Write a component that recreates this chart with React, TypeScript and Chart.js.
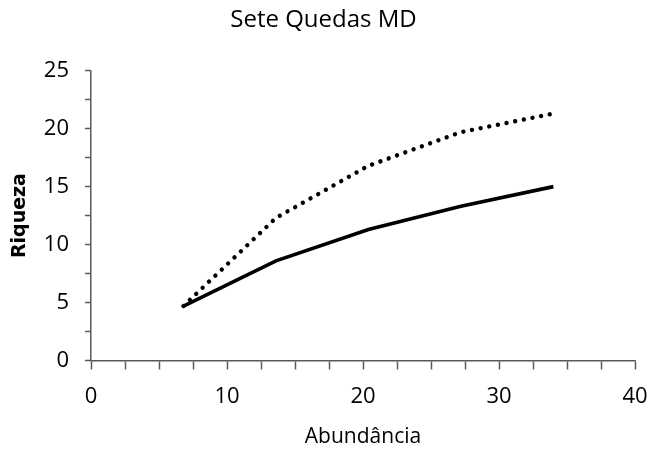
import React, { useEffect, useRef } from "react";
import { Chart, registerables } from "chart.js";

Chart.register(...registerables);

const abundance = [6.8, 13.6, 20.4, 27.2, 34.0];
const observedRichness = [4.7, 8.6, 11.3, 13.3, 15.0];
const estimatedRichness = [4.7, 12.3, 16.8, 19.7, 21.3];
const xTickLabels = [0, 10, 20, 30, 40];
const yTickLabels = [0, 5, 10, 15, 20, 25];

const AXIS_COLOR = "#595959";
const FONT = "'Open Sans', sans-serif";

export default function App() {
  const canvasRef = useRef<HTMLCanvasElement | null>(null);

  useEffect(() => {
    document.body.style.margin = "0";
    const canvas = canvasRef.current;
    if (!canvas) return;
    const chart = new Chart(canvas, {
      type: "line",
      data: {
        datasets: [
          {
            label: "Estimada",
            data: abundance.map((x, i) => ({ x, y: estimatedRichness[i] })),
            borderColor: "#000000",
            borderWidth: 4.4,
            borderDash: [0.01, 8.8],
            borderCapStyle: "round",
            pointRadius: 0,
            fill: false,
            tension: 0,
          },
          {
            label: "Observada",
            data: abundance.map((x, i) => ({ x, y: observedRichness[i] })),
            borderColor: "#000000",
            borderWidth: 3.6,
            pointRadius: 0,
            fill: false,
            tension: 0,
          },
        ],
      },
      options: {
        animation: false,
        responsive: true,
        maintainAspectRatio: false,
        layout: { padding: { left: 12, right: 12, top: 0, bottom: 0 } },
        plugins: {
          legend: { display: false },
          tooltip: { enabled: false },
          title: {
            display: true,
            text: "Sete Quedas MD",
            color: "#000000",
            font: { family: FONT, size: 24, weight: "normal", lineHeight: 1.2 },
            padding: { top: 5.3, bottom: 36.6 },
          },
        },
        scales: {
          x: {
            type: "linear",
            min: xTickLabels[0],
            max: xTickLabels[xTickLabels.length - 1],
            afterFit: (scale: any) => {
              scale.height = 90.5;
              scale.paddingRight = 0;
              scale.paddingLeft = 0;
            },
            border: { display: true, color: AXIS_COLOR, width: 1.5 },
            grid: {
              display: true,
              drawOnChartArea: false,
              drawTicks: true,
              tickLength: 9,
              color: AXIS_COLOR,
              tickWidth: 1.5,
            },
            ticks: {
              stepSize: 2.5,
              autoSkip: false,
              maxRotation: 0,
              padding: 13.8,
              color: "#000000",
              font: { family: FONT, size: 22, lineHeight: 1.2 },
              callback: (v: any) => (xTickLabels.includes(Number(v)) ? String(v) : ""),
            },
            title: {
              display: true,
              text: "Abundância",
              color: "#000000",
              font: { family: FONT, size: 21, lineHeight: 1.2 },
              padding: { top: 0, bottom: 1.4 },
            },
          },
          y: {
            type: "linear",
            min: yTickLabels[0],
            max: yTickLabels[yTickLabels.length - 1],
            afterFit: (scale: any) => {
              scale.width = 79;
            },
            border: { display: true, color: AXIS_COLOR, width: 1.5 },
            grid: {
              display: true,
              drawOnChartArea: false,
              drawTicks: true,
              tickLength: 6,
              color: AXIS_COLOR,
              tickWidth: 1.5,
            },
            ticks: {
              stepSize: 2.5,
              autoSkip: false,
              padding: 16,
              color: "#000000",
              font: { family: FONT, size: 22, lineHeight: 1.2 },
              callback: (v: any) => (yTickLabels.includes(Number(v)) ? String(v) : ""),
            },
            title: {
              display: true,
              text: "Riqueza",
              color: "#000000",
              font: { family: "'DejaVu Sans'", size: 19, weight: "bold", lineHeight: 0.9 },
              padding: { top: 0, bottom: 0 },
            },
          },
        },
      },
    });
    return () => chart.destroy();
  }, []);

  return (
    <div style={{ position: "fixed", left: 0, top: 0, width: 647, height: 451, background: "#ffffff" }}>
      <canvas ref={canvasRef} />
    </div>
  );
}
